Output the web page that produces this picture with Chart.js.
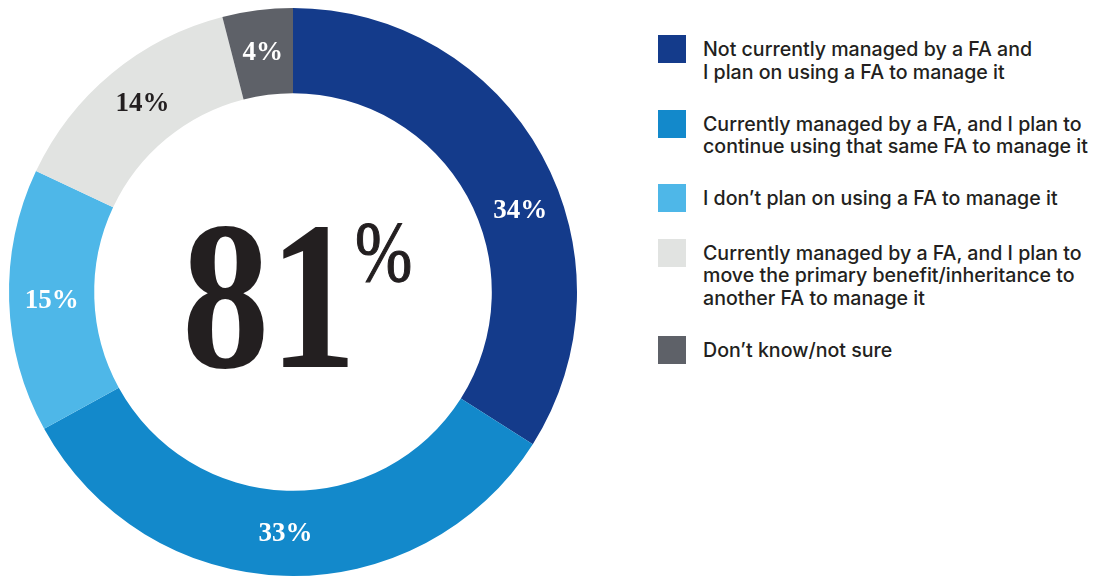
<!DOCTYPE html>
<html>
<head>
<meta charset="utf-8">
<script src="https://cdn.jsdelivr.net/npm/chart.js@4.4.1/dist/chart.umd.min.js"></script>
<style>
  html, body { margin: 0; padding: 0; background: #fff; }
  body { width: 1096px; height: 577px; overflow: hidden; position: relative; }
  #chartBox { position: absolute; left: 0; top: 0; width: 586px; height: 586px; }
  #legend {
    position: absolute; left: 658px; top: 35px;
    display: flex; flex-direction: column; gap: 26.5px;
    font-family: Inter, "Noto Sans", sans-serif; font-weight: 500;
    font-size: 19.6px; line-height: 22.5px; color: #231f20;
  }
  .item { display: flex; align-items: flex-start; }
  .swatch { width: 28px; height: 28px; flex: none; margin-right: 17px; }
  .text { padding-top: 3px; white-space: nowrap; }
</style>
</head>
<body>
<div id="chartBox"><canvas id="donut"></canvas></div>
<div id="legend"></div>
<script>
// answers, in drawing order (clockwise from 12 o'clock)
const categories = [
  ['Not currently managed by a FA and', 'I plan on using a FA to manage it'],
  ['Currently managed by a FA, and I plan to', 'continue using that same FA to manage it'],
  ['I don\u2019t plan on using a FA to manage it'],
  ['Currently managed by a FA, and I plan to', 'move the primary benefit/inheritance to', 'another FA to manage it'],
  ['Don\u2019t know/not sure']
];
const shares = [34, 33, 15, 14, 4];
// share that will use a FA (34 + 33 + 14)
const headline = 81;

const colors = ['#143b8b', '#1389cb', '#4eb7e8', '#e1e3e1', '#5e6168'];
const labelColors = ['#fff', '#fff', '#fff', '#231f20', '#fff'];
const labelNudge = [9, 0, 0, 1, 0]; // degrees, moves a label along the ring

const sliceLabels = {
  id: 'sliceLabels',
  afterDatasetsDraw(chart) {
    const { ctx } = chart;
    const arcs = chart.getDatasetMeta(0).data;
    ctx.save();
    ctx.font = 'bold 27px "Liberation Serif", serif';
    ctx.textAlign = 'center';
    ctx.textBaseline = 'middle';
    arcs.forEach((arc, i) => {
      const a = (arc.startAngle + arc.endAngle) / 2 + labelNudge[i] * Math.PI / 180;
      const r = (arc.innerRadius + arc.outerRadius) / 2;
      ctx.fillStyle = labelColors[i];
      ctx.fillText(shares[i] + '%', arc.x + r * Math.cos(a), arc.y + r * Math.sin(a) + 1);
    });
    ctx.restore();
  }
};

const centerText = {
  id: 'centerText',
  afterDatasetsDraw(chart) {
    const { ctx } = chart;
    const arc = chart.getDatasetMeta(0).data[0];
    const cx = arc.x, cy = arc.y;
    ctx.save();
    ctx.fillStyle = '#231f20';
    ctx.textBaseline = 'alphabetic';
    ctx.textAlign = 'left';
    ctx.font = 'bold 213px "Liberation Serif", serif';
    ctx.translate(cx - 111, cy + 75);
    ctx.scale(0.82, 1);
    ctx.fillText(String(headline), 0, 0);
    ctx.restore();

    // superscript percent sign
    ctx.save();
    ctx.fillStyle = '#231f20';
    ctx.strokeStyle = '#231f20';
    ctx.lineWidth = 1.2;
    ctx.font = '86px "Liberation Serif", serif';
    ctx.translate(cx + 62, cy - 11);
    ctx.scale(0.8, 1);
    ctx.fillText('%', 0, 0);
    ctx.strokeText('%', 0, 0);
    ctx.restore();
  }
};

new Chart(document.getElementById('donut'), {
  type: 'doughnut',
  data: {
    labels: categories,
    datasets: [{
      data: shares,
      backgroundColor: colors,
      borderWidth: 0
    }]
  },
  options: {
    responsive: true,
    maintainAspectRatio: false,
    animation: false,
    cutout: '70%',
    layout: { padding: { left: 9, right: 9, top: 8, bottom: 10 } },
    plugins: {
      legend: { display: false },
      tooltip: { enabled: false }
    }
  },
  plugins: [sliceLabels, centerText]
});

// legend on the right
const legend = document.getElementById('legend');
categories.forEach((lines, i) => {
  const item = document.createElement('div');
  item.className = 'item';
  const sw = document.createElement('div');
  sw.className = 'swatch';
  sw.style.background = colors[i];
  const txt = document.createElement('div');
  txt.className = 'text';
  txt.innerHTML = lines.join('<br>');
  item.appendChild(sw);
  item.appendChild(txt);
  legend.appendChild(item);
});
</script>
</body>
</html>
